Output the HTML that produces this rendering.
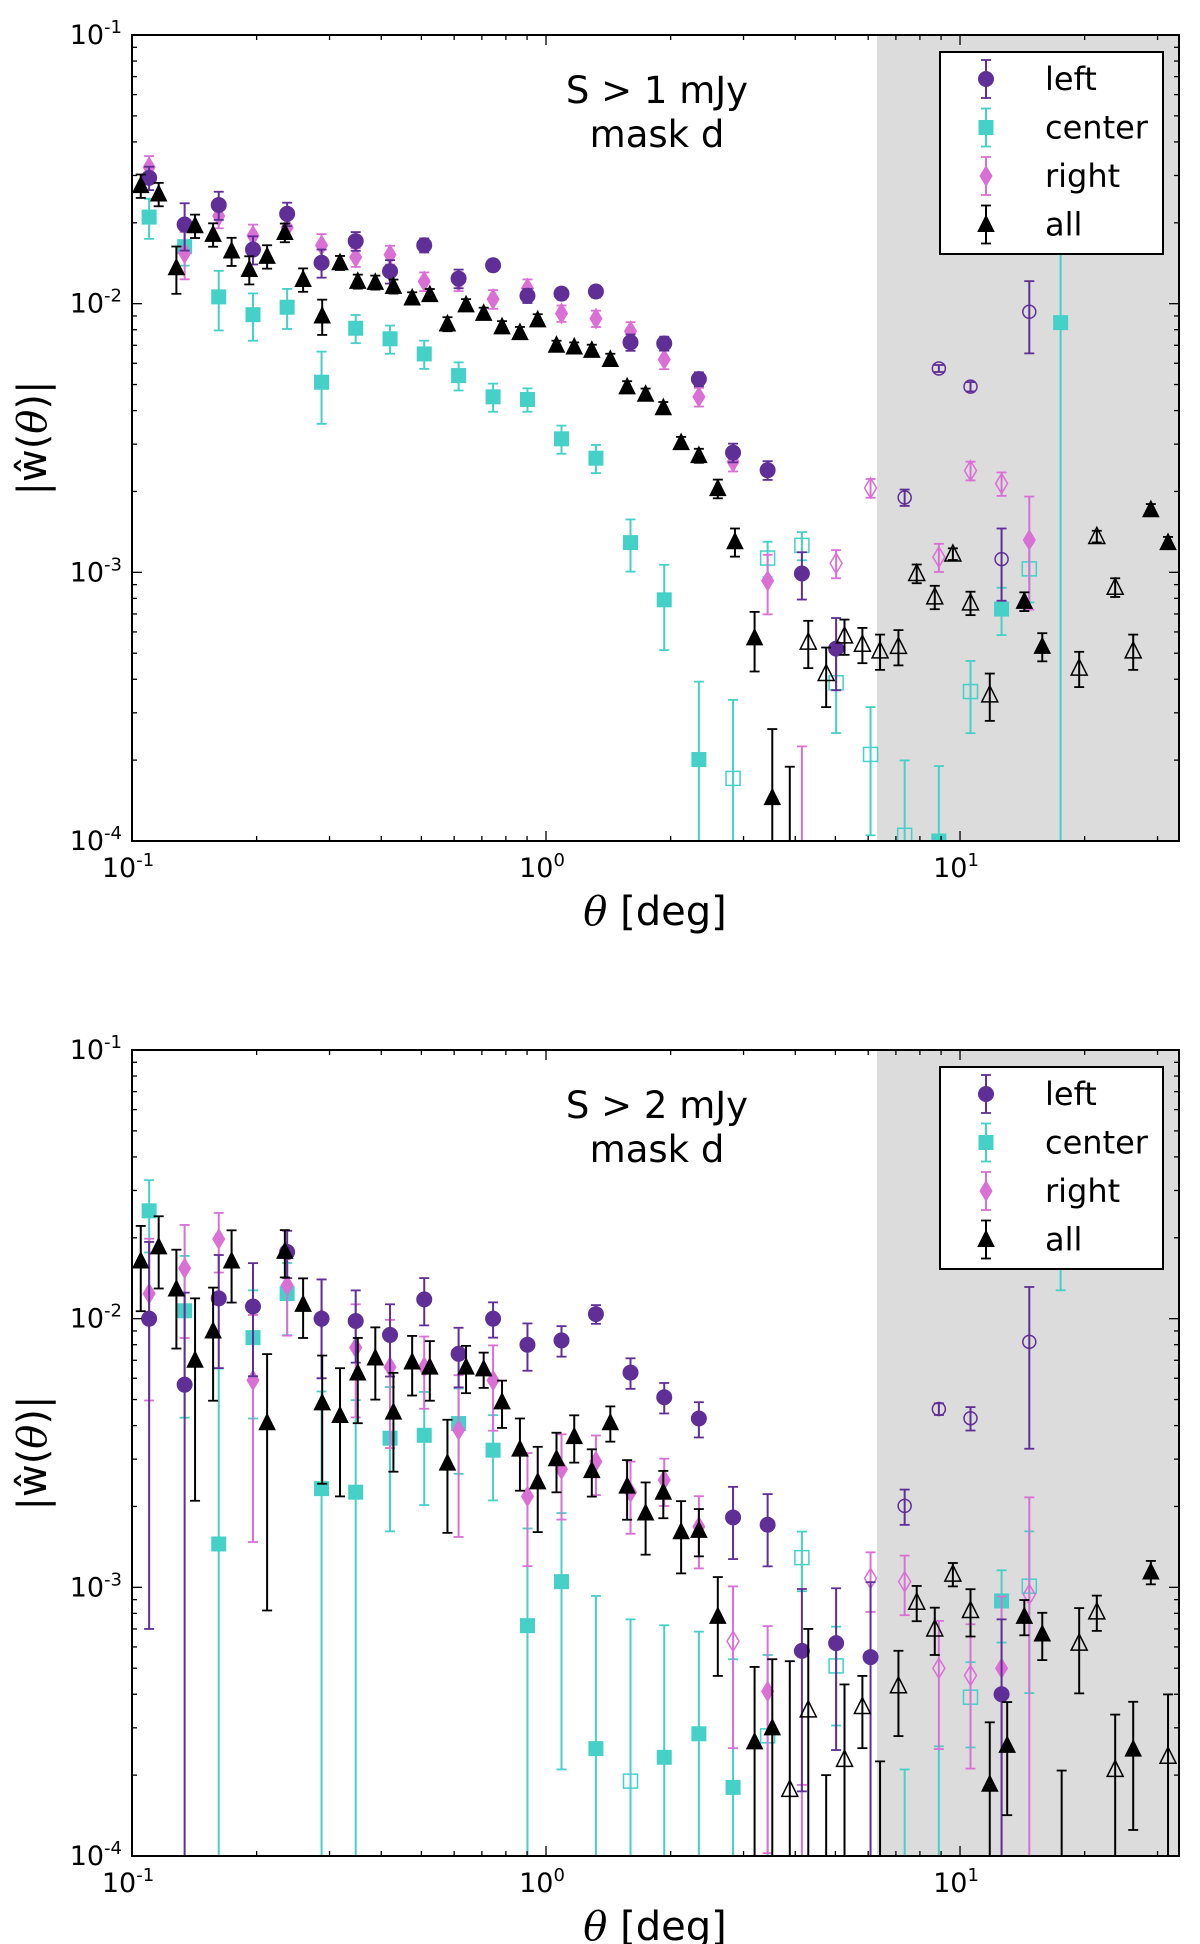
<!DOCTYPE html>
<html><head><meta charset="utf-8">
<style>
body{margin:0;background:#fff;}
svg{display:block;font-family:"DejaVu Sans","Liberation Sans",sans-serif;}
</style></head>
<body>
<svg id="fig" width="1200" height="1944" viewBox="0 0 1200 1944" xmlns="http://www.w3.org/2000/svg"></svg>
<script>
// ---- Panel 1 (S > 1 mJy) ----
const p1LeftX = [0.110,0.134,0.162,0.196,0.237,0.287,0.347,0.420,0.508,0.615,0.745,0.902,1.09,1.32,1.60,1.93,2.34,2.83,3.43,4.15,5.02,7.35,8.89,10.6,12.6,14.7];
const p1LeftY = [0.0294,0.0197,0.0233,0.0159,0.0216,0.0142,0.0171,0.0132,0.0165,0.0124,0.0139,0.0107,0.0109,0.0111,0.00718,0.00711,0.00524,0.00279,0.00240,0.00099,0.00052,0.00190,0.00574,0.00491,0.00112,0.00933];
const p1LeftErr = [0.1,0.2,0.12,0.12,0.1,0.12,0.08,0.1,0.06,0.08,0.05,0.06,0.05,0.05,0.07,0.06,0.06,0.08,0.08,0.2,0.3,0.07,0.03,0.04,0.3,0.3];
const p1LeftOpen = [0,0,0,0,0,0,0,0,0,0,0,0,0,0,0,0,0,0,0,0,0,1,1,1,1,1];

const p1CenterX = [0.110,0.134,0.162,0.196,0.237,0.287,0.347,0.420,0.508,0.615,0.745,0.902,1.09,1.32,1.60,1.93,2.34,2.83,3.43,4.15,5.02,6.08,7.35,8.89,10.6,12.6,14.7,17.5];
const p1CenterY = [0.0210,0.0163,0.0106,0.0091,0.0097,0.0051,0.0081,0.0074,0.0065,0.0054,0.0045,0.0044,0.00314,0.00266,0.00129,0.00079,0.000201,0.000171,0.00113,0.00126,0.000388,0.00021,0.000105,0.0001,0.00036,0.00073,0.00103,0.0085];
const p1CenterErr = [0.17,0.15,0.25,0.2,0.17,0.3,0.12,0.12,0.12,0.12,0.12,0.1,0.12,0.12,0.22,0.35,0.95,0.96,0.15,0.12,0.35,0.5,0.9,0.9,0.3,0.2,0.25,1.5];
const p1CenterOpen = [0,0,0,0,0,0,0,0,0,0,0,0,0,0,0,0,0,1,1,1,1,1,1,0,1,0,1,0];

const p1RightX = [0.110,0.134,0.162,0.196,0.237,0.287,0.347,0.420,0.508,0.615,0.745,0.902,1.09,1.32,1.60,1.93,2.34,2.83,3.43,4.15,5.02,6.08,8.89,10.6,12.6,14.7];
const p1RightY = [0.0322,0.0154,0.0212,0.0179,0.0192,0.0165,0.0149,0.0152,0.0121,0.0121,0.0104,0.0114,0.0092,0.0088,0.0079,0.0062,0.0045,0.00258,0.00093,0.00009,0.00108,0.00206,0.00114,0.00239,0.00214,0.00132];
const p1RightErr = [0.1,0.2,0.1,0.1,0.08,0.1,0.08,0.08,0.08,0.08,0.08,0.08,0.07,0.07,0.08,0.08,0.08,0.08,0.25,1.5,0.12,0.08,0.12,0.08,0.1,0.45];
const p1RightOpen = [0,0,0,0,0,0,0,0,0,0,0,0,0,0,0,0,0,0,0,0,1,1,1,1,1,0];

const p1AllX = [0.105,0.116,0.128,0.142,0.157,0.174,0.192,0.212,0.234,0.259,0.288,0.318,0.351,0.387,0.428,0.475,0.524,0.578,0.641,0.707,0.783,0.865,0.955,1.06,1.17,1.29,1.43,1.57,1.74,1.92,2.12,2.34,2.60,2.86,3.19,3.52,3.88,4.30,4.75,5.26,5.81,6.41,7.10,7.86,8.69,9.61,10.6,11.8,14.3,15.8,19.4,21.4,23.7,26.2,28.9,31.8];
const p1AllY = [0.0275,0.0256,0.0136,0.0195,0.0181,0.0157,0.0134,0.0150,0.0184,0.0123,0.0090,0.0142,0.0121,0.0120,0.0116,0.0105,0.0108,0.0084,0.0099,0.0092,0.0082,0.0078,0.0087,0.0070,0.0069,0.0067,0.0062,0.0049,0.0046,0.0041,0.00304,0.00272,0.00205,0.00130,0.00057,0.000145,0.00007,0.00055,0.00042,0.00058,0.00054,0.00051,0.00053,0.00099,0.00081,0.00117,0.00077,0.00035,0.00078,0.00053,0.00044,0.00136,0.00088,0.00051,0.00171,0.00129];
const p1AllErr = [0.1,0.1,0.2,0.1,0.1,0.12,0.12,0.1,0.08,0.1,0.15,0.06,0.06,0.06,0.06,0.05,0.05,0.06,0.05,0.05,0.05,0.05,0.05,0.04,0.04,0.05,0.05,0.05,0.05,0.05,0.05,0.06,0.08,0.12,0.25,0.8,1.7,0.2,0.25,0.15,0.15,0.15,0.15,0.08,0.1,0.05,0.1,0.2,0.08,0.12,0.15,0.05,0.08,0.15,0.05,0.05];
const p1AllOpen = [0,0,0,0,0,0,0,0,0,0,0,0,0,0,0,0,0,0,0,0,0,0,0,0,0,0,0,0,0,0,0,0,0,0,0,0,0,1,1,1,1,1,1,1,1,1,1,1,0,0,1,1,1,1,0,0];

// ---- Panel 2 (S > 2 mJy) ----
const p2LeftX = [0.110,0.134,0.162,0.196,0.237,0.287,0.347,0.420,0.508,0.615,0.745,0.902,1.09,1.32,1.60,1.93,2.34,2.83,3.43,4.15,5.02,6.08,7.35,8.89,10.6,12.6,14.7];
const p2LeftY = [0.0100,0.00568,0.0119,0.0111,0.0177,0.0100,0.0098,0.0087,0.0118,0.0074,0.0100,0.0080,0.0083,0.0104,0.0063,0.0051,0.00425,0.00182,0.00171,0.00058,0.00062,0.00055,0.00201,0.00461,0.00426,0.00040,0.0082];
const p2LeftErr = [0.93,1.2,0.45,0.45,0.2,0.4,0.3,0.3,0.2,0.25,0.15,0.2,0.13,0.08,0.13,0.13,0.15,0.3,0.3,0.7,0.6,0.9,0.15,0.05,0.1,0.9,0.6];
const p2LeftOpen = [0,0,0,0,0,0,0,0,0,0,0,0,0,0,0,0,0,0,0,0,0,0,1,1,1,0,1];

const p2CenterX = [0.110,0.134,0.162,0.196,0.237,0.287,0.347,0.420,0.508,0.615,0.745,0.902,1.09,1.32,1.60,1.93,2.34,2.83,3.43,4.15,5.02,7.35,8.89,10.6,12.6,14.7,17.5];
const p2CenterY = [0.0252,0.0107,0.00145,0.0085,0.0124,0.00233,0.00226,0.00359,0.00368,0.00407,0.00324,0.00072,0.00105,0.000251,0.000190,0.000233,0.000285,0.00018,0.00028,0.00129,0.00051,0.00006,0.00008,0.00039,0.00089,0.00101,0.025];
const p2CenterErr = [0.3,0.6,3.5,0.5,0.3,1.3,1.2,0.55,0.45,0.35,0.35,1.3,0.8,2.7,3,2.1,1.4,2,1,0.25,0.4,2.5,2.2,0.35,0.3,0.6,0.49];
const p2CenterOpen = [0,0,0,0,0,0,0,0,0,0,0,0,0,0,1,0,0,0,1,1,1,0,0,1,0,1,0];

const p2RightX = [0.110,0.134,0.162,0.196,0.237,0.287,0.347,0.420,0.508,0.615,0.745,0.902,1.09,1.32,1.60,1.93,2.34,2.83,3.43,4.15,6.08,7.35,8.89,10.6,12.6,14.7];
const p2RightY = [0.0124,0.0154,0.0198,0.0059,0.0133,0.0100,0.0078,0.0066,0.0066,0.00385,0.00589,0.00218,0.00275,0.00294,0.00226,0.00251,0.00168,0.00063,0.00041,0.00008,0.00108,0.00105,0.00050,0.00047,0.00050,0.00094];
const p2RightErr = [0.6,0.45,0.25,0.75,0.35,0.4,0.45,0.5,0.3,0.6,0.35,0.45,0.35,0.25,0.3,0.2,0.3,0.6,0.75,1.3,0.25,0.25,0.5,0.55,0.85,1.3];
const p2RightOpen = [0,0,0,0,0,0,0,0,0,0,0,0,0,0,0,0,0,1,0,0,1,1,1,1,0,1];

const p2AllX = [0.105,0.116,0.128,0.142,0.157,0.174,0.212,0.234,0.259,0.288,0.318,0.351,0.387,0.428,0.475,0.524,0.578,0.641,0.707,0.783,0.865,0.955,1.06,1.17,1.29,1.43,1.57,1.74,1.92,2.12,2.34,2.60,3.19,3.52,3.88,4.30,4.75,5.26,5.81,6.41,7.10,7.86,8.69,9.61,10.6,11.8,13.0,14.3,15.8,17.6,19.4,21.4,23.7,26.2,28.9,31.8];
const p2AllY = [0.0164,0.0185,0.0129,0.0070,0.0090,0.0164,0.0041,0.0178,0.0113,0.00486,0.00436,0.00628,0.00714,0.00449,0.0069,0.0066,0.0029,0.0066,0.0065,0.0049,0.00327,0.00247,0.00301,0.00364,0.00272,0.0041,0.00238,0.00189,0.00226,0.00161,0.00163,0.00078,0.000266,0.00030,0.000177,0.00035,0.00008,0.000229,0.00036,0.00009,0.00043,0.00088,0.00070,0.00112,0.00082,0.000185,0.000258,0.00078,0.00067,0.00008,0.00062,0.00081,0.00021,0.00025,0.00114,0.000235];
const p2AllErr = [0.35,0.3,0.4,0.7,0.45,0.3,0.8,0.2,0.25,0.5,0.5,0.35,0.3,0.4,0.25,0.25,0.45,0.2,0.15,0.2,0.3,0.35,0.25,0.2,0.2,0.15,0.25,0.3,0.2,0.3,0.2,0.4,0.9,0.8,2,1,1.5,0.9,0.3,1.5,0.35,0.15,0.2,0.1,0.2,0.7,0.45,0.15,0.2,1.6,0.35,0.15,0.6,0.5,0.1,0.7];
const p2AllOpen = [0,0,0,0,0,0,0,0,0,0,0,0,0,0,0,0,0,0,0,0,0,0,0,0,0,0,0,0,0,0,0,0,0,0,1,1,0,1,1,0,1,1,1,1,1,0,0,0,0,0,1,1,1,0,0,1];

const xTickLabels = ["10","10","10"];
const xTickExp = ["-1","0","1"];
const yTickExp = ["-1","-2","-3","-4"];

const NS = "http://www.w3.org/2000/svg";
const svg = document.getElementById("fig");
const XL = 132, XR = 1179, XMIN = -1, XMAX = Math.log10(33.8), SHADE = Math.log10(6.3);
const COLORS = {left:"#5f2e96", center:"#45d0c8", right:"#da70d6", all:"#000000"};

function el(tag, attrs, parent){
  const e = document.createElementNS(NS, tag);
  for (const k in attrs) e.setAttribute(k, attrs[k]);
  (parent || svg).appendChild(e);
  return e;
}

function drawPanel(idx, top, bottom, title, series){
  const g = el("g", {});
  
  
  const sx = v => XL + (Math.log10(v) - XMIN) / (XMAX - XMIN) * (XR - XL);
  const sy = v => top + (-1 - Math.log10(v)) / 3 * (bottom - top);
  const clipId = "clip" + idx;
  const cp = el("clipPath", {id: clipId}, g);
  el("rect", {x: XL, y: top, width: XR - XL, height: bottom - top}, cp);
  // shaded region
  const shadeX = XL + (SHADE - XMIN) / (XMAX - XMIN) * (XR - XL);
  const sh = el("rect", {x: shadeX, y: top, width: XR - shadeX, height: bottom - top, fill: "#dcdcdc"}, g);
  
  
  // data
  const dg = el("g", {"clip-path": "url(#" + clipId + ")"}, g);
  
  
  for (const s of series){
    const c = COLORS[s.key];
    for (let i = 0; i < s.x.length; i++){
      const X = sx(s.x[i]), v = s.y[i], e = v * s.err[i];
      const yHi = sy(v + e), yLo = (v - e) > 0 ? sy(v - e) : bottom + 50;
      const pg = el("g", {}, dg);
      
      
      el("line", {x1: X, x2: X, y1: yHi, y2: yLo, stroke: c, "stroke-width": 2}, pg);
      el("line", {x1: X - 5, x2: X + 5, y1: yHi, y2: yHi, stroke: c, "stroke-width": 1.8}, pg);
      el("line", {x1: X - 5, x2: X + 5, y1: yLo, y2: yLo, stroke: c, "stroke-width": 1.8}, pg);
      const Y = sy(v), open = s.open[i] === 1;
      const st = open ? {fill: "none", stroke: c, "stroke-width": 1.5} : {fill: c, stroke: c, "stroke-width": 1};
      drawMarker(s.key, X, Y, st, pg, open);
    }
  }
  // axes frame
  const fr = el("rect", {x: XL, y: top, width: XR - XL, height: bottom - top, fill: "none", stroke: "#000", "stroke-width": 2}, g);
  
  
  // x ticks
  for (let d = -1; d <= 1; d++){
    for (let m = 1; m <= 9; m++){
      const v = m * Math.pow(10, d), lv = Math.log10(v);
      if (lv < XMIN - 1e-9 || lv > XMAX) continue;
      const X = sx(v), L = m === 1 ? 10 : 5;
      el("line", {x1: X, x2: X, y1: bottom, y2: bottom - L, stroke: "#000", "stroke-width": 1.3}, g);
      el("line", {x1: X, x2: X, y1: top, y2: top + L, stroke: "#000", "stroke-width": 1.3}, g);
    }
  }
  for (let d = -1; d <= 1; d++){
    const X = sx(Math.pow(10, d));
    const t = el("text", {x: X - 4, y: bottom + 36, "font-size": 27, "text-anchor": "middle"}, g);
    
    
    t.textContent = xTickLabels[d + 1];
    const ts = el("tspan", {dy: -11, "font-size": 18}, t);
    ts.textContent = xTickExp[d + 1];
  }
  // y ticks
  for (let d = -4; d <= -2; d++){
    for (let m = 1; m <= 9; m++){
      const v = m * Math.pow(10, d), Y = sy(v), L = m === 1 ? 10 : 5;
      el("line", {x1: XL, x2: XL + L, y1: Y, y2: Y, stroke: "#000", "stroke-width": 1.3}, g);
      el("line", {x1: XR, x2: XR - L, y1: Y, y2: Y, stroke: "#000", "stroke-width": 1.3}, g);
    }
  }
  for (let k = 0; k < 4; k++){
    const Y = sy(Math.pow(10, -1 - k));
    const t = el("text", {x: XL - 10, y: Y + 9, "font-size": 27, "text-anchor": "end"}, g);
    
    
    t.textContent = "10";
    const ts = el("tspan", {dy: -11, "font-size": 18}, t);
    ts.textContent = yTickExp[k];
  }
  // axis labels
  const xl = el("text", {x: 655, y: bottom + 84, "font-size": 40, "text-anchor": "middle"}, g);
  
  
  const xi = el("tspan", {"font-style": "italic", "font-family": "DejaVu Serif, Liberation Serif, serif"}, xl);
  xi.textContent = "θ";
  const xr = el("tspan", {}, xl); xr.textContent = " [deg]";
  const cy = (top + bottom) / 2;
  const yl = el("text", {x: 0, y: 0, "font-size": 40, "text-anchor": "middle", transform: "translate(46," + cy + ") rotate(-90)"}, g);
  
  
  yl.textContent = "|ŵ(";
  const yt = el("tspan", {"font-style": "italic", "font-family": "DejaVu Serif, Liberation Serif, serif"}, yl);
  yt.textContent = "θ";
  const yr = el("tspan", {}, yl); yr.textContent = ")|";
  // title
  const t1 = el("text", {x: 657, y: top + 68, "font-size": 37, "text-anchor": "middle"}, g);
  
  
  t1.textContent = title;
  const t2 = el("text", {x: 657, y: top + 112, "font-size": 37, "text-anchor": "middle"}, g);
  
  
  t2.textContent = "mask d";
  // legend
  const lg = el("g", {}, g);
  
  
  el("rect", {x: 940, y: top + 17, width: 223, height: 202, fill: "#fff", stroke: "#000", "stroke-width": 2}, lg);
  const names = ["left", "center", "right", "all"];
  names.forEach((n, k) => {
    const Y = top + 44 + k * 48.5;
    const eg = el("g", {}, lg);
    
    
    const c = COLORS[n];
    el("line", {x1: 986, x2: 986, y1: Y - 19, y2: Y + 19, stroke: c, "stroke-width": 2}, eg);
    el("line", {x1: 981, x2: 991, y1: Y - 19, y2: Y - 19, stroke: c, "stroke-width": 1.8}, eg);
    el("line", {x1: 981, x2: 991, y1: Y + 19, y2: Y + 19, stroke: c, "stroke-width": 1.8}, eg);
    drawMarker(n, 986, Y, {fill: c, stroke: c, "stroke-width": 1}, eg, false);
    const tx = el("text", {x: 1045, y: Y + 11, "font-size": 32}, eg);
    tx.textContent = n;
  });
}

function drawMarker(key, X, Y, st, parent, open){
  let m;
  if (key === "left") m = el("circle", Object.assign({cx: X, cy: Y, r: open ? 6.5 : 7.5}, st), parent);
  else if (key === "center") m = el("rect", Object.assign({x: X - 7, y: Y - 7, width: 14, height: 14}, st), parent);
  else if (key === "right") m = el("polygon", Object.assign({points: `${X},${Y-10} ${X+6},${Y} ${X},${Y+10} ${X-6},${Y}`}, st), parent);
  else m = el("polygon", Object.assign({points: `${X},${Y-9} ${X+8},${Y+7} ${X-8},${Y+7}`}, st), parent);
  
  
}

drawPanel(1, 35, 841, "S > 1 mJy", [
  {key: "center", x: p1CenterX, y: p1CenterY, err: p1CenterErr, open: p1CenterOpen},
  {key: "right", x: p1RightX, y: p1RightY, err: p1RightErr, open: p1RightOpen},
  {key: "left", x: p1LeftX, y: p1LeftY, err: p1LeftErr, open: p1LeftOpen},
  {key: "all", x: p1AllX, y: p1AllY, err: p1AllErr, open: p1AllOpen}
]);
drawPanel(2, 1050, 1856, "S > 2 mJy", [
  {key: "center", x: p2CenterX, y: p2CenterY, err: p2CenterErr, open: p2CenterOpen},
  {key: "right", x: p2RightX, y: p2RightY, err: p2RightErr, open: p2RightOpen},
  {key: "left", x: p2LeftX, y: p2LeftY, err: p2LeftErr, open: p2LeftOpen},
  {key: "all", x: p2AllX, y: p2AllY, err: p2AllErr, open: p2AllOpen}
]);
</script>
</body></html>
